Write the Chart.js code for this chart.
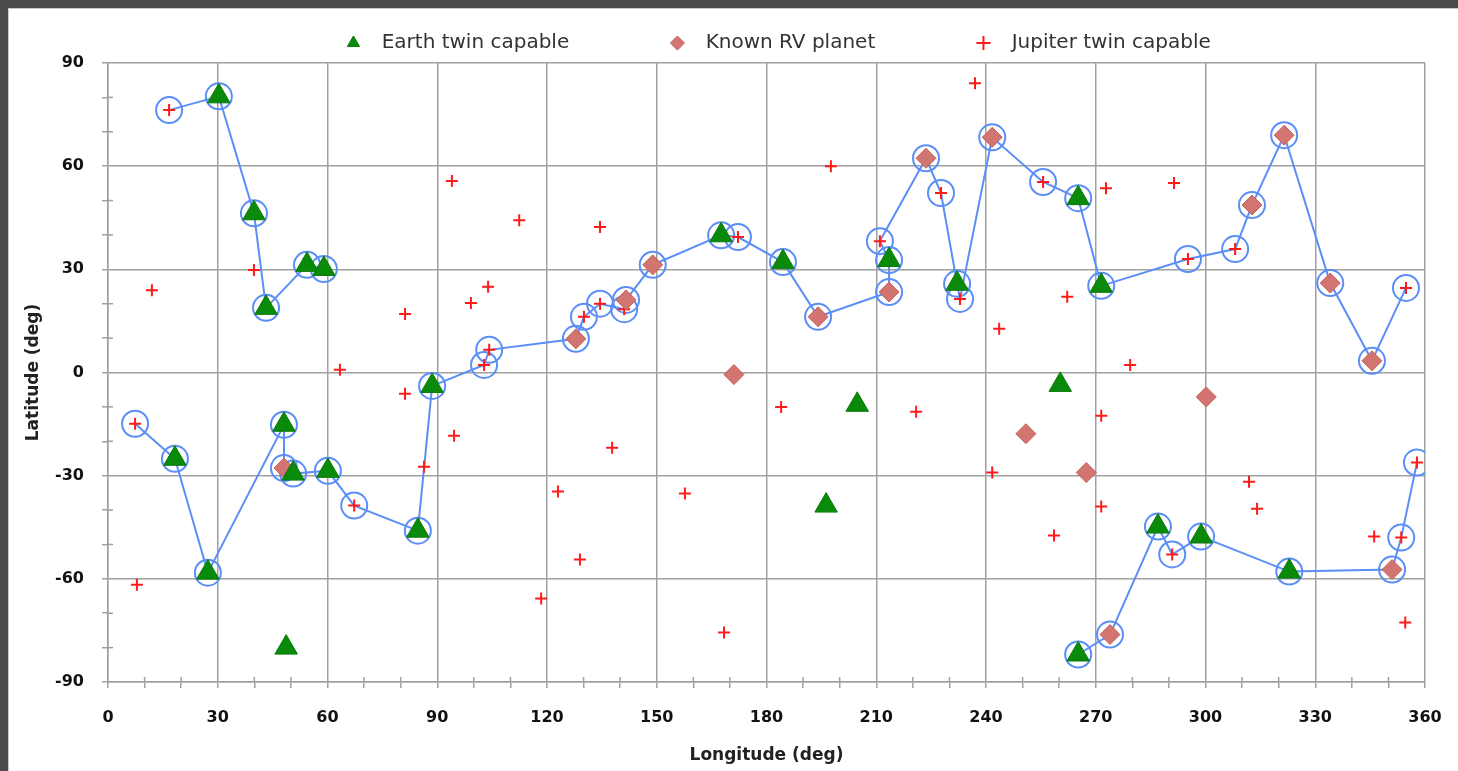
<!DOCTYPE html>
<html>
<head>
<meta charset="utf-8">
<script src="https://cdn.jsdelivr.net/npm/chart.js@4.4.0/dist/chart.umd.min.js"></script>
<style>
  html, body { margin: 0; padding: 0; background: #4a4a4a; overflow: hidden; }
  #frame {
    position: absolute; left: 8px; top: 8px;
    width: 1449px; height: 762px;
    background: #fff;
    border-left: 1px solid #c8c8c8; border-top: 1px solid #c8c8c8;
  }
  #wrap { position: absolute; left: 1px; top: 1px; width: 1448px; height: 761px; }
</style>
</head>
<body>
<div id="frame"><div id="wrap"><canvas id="myScatter"></canvas></div></div>
<script>
// Earth twin capable (green triangles)
const earthLon = [30.3, 39.9, 43.2, 54.4, 59.0, 18.3, 27.3, 48.1, 50.6, 60.1, 84.7, 88.6, 48.7,
  167.6, 184.5, 213.5, 232.1, 265.2, 271.5, 204.8, 196.3, 260.3, 265.2, 287.0, 298.8, 322.9];
const earthLat = [80.3, 46.3, 18.8, 31.3, 30.1, -25.1, -58.2, -15.2, -29.4, -28.6, -46.0, -3.9, -80.0,
  39.9, 32.1, 32.7, 25.8, 50.7, 25.2, -9.4, -38.7, -3.6, -82.0, -44.8, -47.7, -57.9];

// Known RV planet (diamonds)
const rvLon = [48.1, 127.9, 141.6, 148.9, 171.1, 194.1, 213.5, 223.6, 241.7, 250.9, 267.4, 300.2,
  273.9, 312.7, 321.5, 334.1, 345.5, 351.0];
const rvLat = [-27.8, 9.8, 21.1, 31.3, -0.6, 16.2, 23.4, 62.3, 68.4, -17.8, -29.1, -7.1,
  -76.2, 48.7, 69.0, 26.0, 3.4, -57.3];

// Jupiter twin capable (red plus)
const jupLon = [16.7, 12.0, 7.9, 7.4, 39.9, 63.4, 81.2, 81.2, 86.4, 67.3, 94.0, 94.6, 99.2, 103.9,
  102.8, 104.2, 112.4, 123.0, 118.4, 129.0, 130.1, 134.5, 134.5, 137.8, 141.1, 157.7, 172.2, 168.4,
  184.0, 197.6, 211.0, 220.9, 227.7, 232.9, 237.0, 241.7, 243.6, 255.6, 262.2, 258.6, 271.5, 271.5,
  272.8, 279.4, 291.4, 290.9, 295.2, 308.1, 311.9, 314.1, 346.1, 353.5, 354.6, 354.8, 357.8];
const jupLat = [76.3, 23.9, -61.7, -14.9, 29.8, 0.8, 17.0, -6.2, -27.4, -38.7, 55.7, -18.4, 20.2, 24.9,
  2.2, 6.6, 44.3, -34.6, -65.7, -54.4, 16.2, 20.0, 42.3, -21.9, 18.4, -35.2, 39.4, -75.6,
  -10.0, 60.0, 38.2, -11.4, 52.2, 21.4, 84.1, -29.1, 12.7, 55.4, 22.0, -47.4, -12.6, -39.0,
  53.6, 2.2, 55.1, -52.9, 33.0, 35.9, -31.8, -39.6, -47.7, -48.0, -72.7, 24.6, -26.2];

// blue observing paths (circled targets)
const pathALon = [16.7, 30.3, 39.9, 43.2, 54.4, 59.0];
const pathALat = [76.3, 80.3, 46.3, 18.8, 31.3, 30.1];
const pathBLon = [7.4, 18.3, 27.3, 48.1, 48.1, 50.6, 60.1, 67.3, 84.7, 88.6, 102.8, 104.2, 127.9,
  130.1, 134.5, 141.1, 141.6, 148.9, 167.6, 172.2, 184.5, 194.1, 213.5, 213.5, 211.0, 223.6,
  227.7, 232.1, 232.9, 241.7, 255.6, 265.2, 271.5, 295.2, 308.1, 312.7, 321.5, 334.1, 345.5, 354.8];
const pathBLat = [-14.9, -25.1, -58.2, -15.2, -27.8, -29.4, -28.6, -38.7, -46.0, -3.9, 2.2, 6.6, 9.8,
  16.2, 20.0, 18.4, 21.1, 31.3, 39.9, 39.4, 32.1, 16.2, 23.4, 32.7, 38.2, 62.3,
  52.2, 25.8, 21.4, 68.4, 55.4, 50.7, 25.2, 33.0, 35.9, 48.7, 69.0, 26.0, 3.4, 24.6];
const pathCLon = [265.2, 273.9, 287.0, 290.9, 298.8, 322.9, 351.0, 353.5, 357.8];
const pathCLat = [-82.0, -76.2, -44.8, -52.9, -47.7, -57.9, -57.3, -48.0, -26.2];

const xTicks = [0, 30, 60, 90, 120, 150, 180, 210, 240, 270, 300, 330, 360];
const yTicks = [-90, -60, -30, 0, 30, 60, 90];

function pts(xs, ys) { return xs.map((x, i) => ({ x: x, y: ys[i] })); }

const blue = '#5b8ef7';
function pathSet(xs, ys) {
  return {
    label: 'path', data: pts(xs, ys), showLine: true, order: 10,
    borderColor: blue, borderWidth: 2,
    pointStyle: 'circle', pointRadius: 13, pointHoverRadius: 13,
    pointBorderColor: blue, pointBorderWidth: 2, pointBackgroundColor: 'rgba(255,255,255,0)'
  };
}

const gridGray = '#a0a0a0';
const tickFont = { family: 'DejaVu Sans', size: 16, weight: 'bold' };
const xTickFont = { family: 'DejaVu Sans', size: 16, weight: 'bold', lineHeight: 3.375 };
const titleFont = { family: 'DejaVu Sans', size: 17, weight: 'bold' };
const gapBefore = '  ';
const gapAfter = '\u2003\u2003\u2003\u2003  ';
const legendLead = '\u2003\u2003\u2003\u2003  ';

// minor tick marks that reach into the plot area
const innerTicks = {
  id: 'innerTicks',
  afterDatasetsDraw(chart) {
    const { ctx, chartArea, scales } = chart;
    ctx.save();
    ctx.strokeStyle = gridGray; ctx.lineWidth = 1.5;
    scales.x.ticks.forEach(t => {
      if (t.value % 30 === 0) return;
      const px = scales.x.getPixelForValue(t.value);
      ctx.beginPath(); ctx.moveTo(px, chartArea.bottom); ctx.lineTo(px, chartArea.bottom - 5); ctx.stroke();
    });
    scales.y.ticks.forEach(t => {
      if (t.value % 30 === 0) return;
      const py = scales.y.getPixelForValue(t.value);
      ctx.beginPath(); ctx.moveTo(chartArea.left, py); ctx.lineTo(chartArea.left + 5, py); ctx.stroke();
    });
    ctx.restore();
  }
};

const ctx = document.getElementById('myScatter').getContext('2d');
const myChart = new Chart(ctx, {
  type: 'scatter',
  data: {
    datasets: [
      {
        label: gapBefore + 'Earth twin capable' + gapAfter, data: pts(earthLon, earthLat), order: 0,
        pointStyle: 'triangle', pointRadius: 13, pointHoverRadius: 13,
        backgroundColor: '#0a8a0a', borderColor: '#0a7a0a', borderWidth: 1
      },
      {
        label: gapBefore + 'Known RV planet' + gapAfter, data: pts(rvLon, rvLat), order: 1,
        pointStyle: 'rectRot', pointRadius: 10, pointHoverRadius: 10,
        backgroundColor: '#d2746f', borderColor: '#c4625d', borderWidth: 1
      },
      {
        label: gapBefore + 'Jupiter twin capable', data: pts(jupLon, jupLat), order: 2,
        pointStyle: 'cross', pointRadius: 6, pointHoverRadius: 6,
        backgroundColor: '#ff1a1a', borderColor: '#ff1a1a', borderWidth: 2
      },
      pathSet(pathALon, pathALat),
      pathSet(pathBLon, pathBLat),
      pathSet(pathCLon, pathCLat)
    ]
  },
  options: {
    responsive: true,
    maintainAspectRatio: false,
    animation: false,
    layout: { padding: { top: 13, right: 33, left: 0, bottom: 0 } },
    plugins: {
      tooltip: { enabled: false },
      legend: {
        position: 'top',
        labels: {
          usePointStyle: true,
          boxWidth: 11,
          boxHeight: 10,
          padding: 10,
          color: '#333',
          font: { family: 'DejaVu Sans', size: 20 },
          generateLabels(chart) {
            const items = Chart.defaults.plugins.legend.labels.generateLabels(chart)
              .filter(item => item.text !== 'path');
            // invisible spacer that pushes the row to the right like the original
            items.unshift({
              text: legendLead, fillStyle: 'rgba(0,0,0,0)', strokeStyle: 'rgba(0,0,0,0)',
              lineWidth: 0, hidden: false, pointStyle: 'circle', datasetIndex: -1
            });
            return items;
          }
        }
      }
    },
    scales: {
      x: {
        type: 'linear', min: 0, max: 360,
        afterFit(scale) { scale.height = 89; },
        afterBuildTicks(scale) {
          scale.ticks = [];
          for (let v = 0; v <= 360; v += 10) scale.ticks.push({ value: v });
        },
        ticks: {
          autoSkip: false, maxRotation: 0, padding: 3, color: '#111', font: xTickFont,
          callback: v => xTicks.includes(v) ? String(v) : ''
        },
        grid: {
          color: c => (c.tick && c.tick.value % 30 === 0) ? gridGray : 'rgba(0,0,0,0)',
          tickColor: gridGray, tickLength: 6, lineWidth: 1.5
        },
        border: { color: gridGray, width: 1.5 },
        title: {
          display: true, text: 'Longitude (deg)', color: '#222', font: titleFont,
          padding: { top: 4, bottom: 5 }
        }
      },
      y: {
        type: 'linear', min: -90, max: 90,
        afterFit(scale) { scale.width = 98; },
        afterBuildTicks(scale) {
          scale.ticks = [];
          for (let v = -90; v <= 90; v += 10) scale.ticks.push({ value: v });
        },
        ticks: {
          autoSkip: false, padding: 18, color: '#111', font: tickFont,
          callback: v => yTicks.includes(v) ? String(v) : ''
        },
        grid: {
          color: c => (c.tick && c.tick.value % 30 === 0) ? gridGray : 'rgba(0,0,0,0)',
          tickColor: gridGray, tickLength: 6, lineWidth: 1.5
        },
        border: { color: gridGray, width: 1.5 },
        title: {
          display: true, text: 'Latitude (deg)', color: '#222', font: titleFont,
          padding: { top: 13, bottom: 4 }
        }
      }
    }
  },
  plugins: [innerTicks]
});
</script>
</body>
</html>
